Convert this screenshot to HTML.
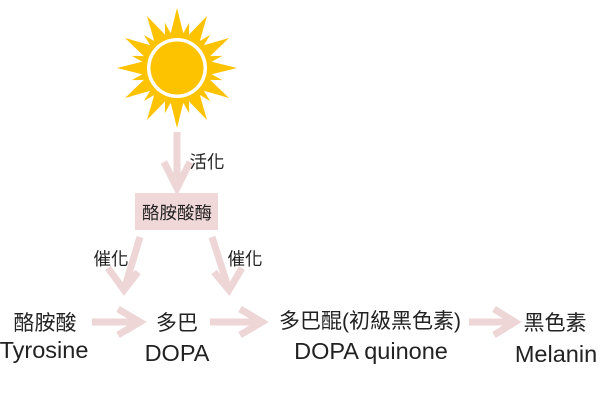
<!DOCTYPE html>
<html><head><meta charset="utf-8"><style>
html,body{margin:0;padding:0;background:#fff;width:600px;height:400px;overflow:hidden}
svg text{font-family:"Liberation Sans","Noto Sans CJK TC",sans-serif;fill:#222}
</style></head><body>
<svg width="600" height="400" viewBox="0 0 600 400" xmlns="http://www.w3.org/2000/svg">
<g transform="translate(177,68)" fill="#fdc300">
<g id="rays">
<polygon points="-8,-28 0,-60 8,-28"/>
</g>
<use href="#rays" transform="rotate(15) scale(0.78)"/>
<use href="#rays" transform="rotate(30)"/>
<use href="#rays" transform="rotate(45) scale(0.78)"/>
<use href="#rays" transform="rotate(60)"/>
<use href="#rays" transform="rotate(75) scale(0.78)"/>
<use href="#rays" transform="rotate(90)"/>
<use href="#rays" transform="rotate(105) scale(0.78)"/>
<use href="#rays" transform="rotate(120)"/>
<use href="#rays" transform="rotate(135) scale(0.78)"/>
<use href="#rays" transform="rotate(150)"/>
<use href="#rays" transform="rotate(165) scale(0.78)"/>
<use href="#rays" transform="rotate(180)"/>
<use href="#rays" transform="rotate(195) scale(0.78)"/>
<use href="#rays" transform="rotate(210)"/>
<use href="#rays" transform="rotate(225) scale(0.78)"/>
<use href="#rays" transform="rotate(240)"/>
<use href="#rays" transform="rotate(255) scale(0.78)"/>
<use href="#rays" transform="rotate(270)"/>
<use href="#rays" transform="rotate(285) scale(0.78)"/>
<use href="#rays" transform="rotate(300)"/>
<use href="#rays" transform="rotate(315) scale(0.78)"/>
<use href="#rays" transform="rotate(330)"/>
<use href="#rays" transform="rotate(345) scale(0.78)"/>
<circle r="30" fill="#fff"/>
<circle r="26.5" fill="#fdc300"/>
</g>
<g stroke="#eed6d6" stroke-width="7" fill="none" stroke-linejoin="miter">
<line x1="177" y1="132" x2="177" y2="188"/>
<polyline points="164,162 177,188 190,162"/>
<line x1="140" y1="237" x2="124" y2="290"/>
<polyline points="108,268 124,290 138,272"/>
<line x1="212" y1="237" x2="229" y2="290"/>
<polyline points="214,272 229,290 242,268"/>
<line x1="92" y1="322" x2="140" y2="322"/>
<polyline points="118,309 140,322 118,335"/>
<line x1="210" y1="322" x2="262" y2="322"/>
<polyline points="240,309 262,322 240,335"/>
<line x1="469" y1="322" x2="515" y2="322"/>
<polyline points="494,309 515,322 494,335"/>
</g>
<rect x="135" y="193" width="83" height="37" fill="#f0d8d8"/>
<g font-size="17.5" text-anchor="middle">
<text x="177" y="219">酪胺酸酶</text>
<text x="207" y="168">活化</text>
<text x="111" y="265">催化</text>
<text x="245" y="265">催化</text>
</g>
<g font-size="21" text-anchor="middle">
<text x="45" y="330">酪胺酸</text>
<text x="177" y="330">多巴</text>
<text x="370" y="328">多巴醌(初級黑色素)</text>
<text x="555" y="330">黑色素</text>
<text x="44" y="358" font-size="23.5">Tyrosine</text>
<text x="177" y="361" font-size="23.5">DOPA</text>
<text x="371" y="359" font-size="23.5">DOPA quinone</text>
<text x="556" y="362" font-size="23.5">Melanin</text>
</g>
</svg>
</body></html>
